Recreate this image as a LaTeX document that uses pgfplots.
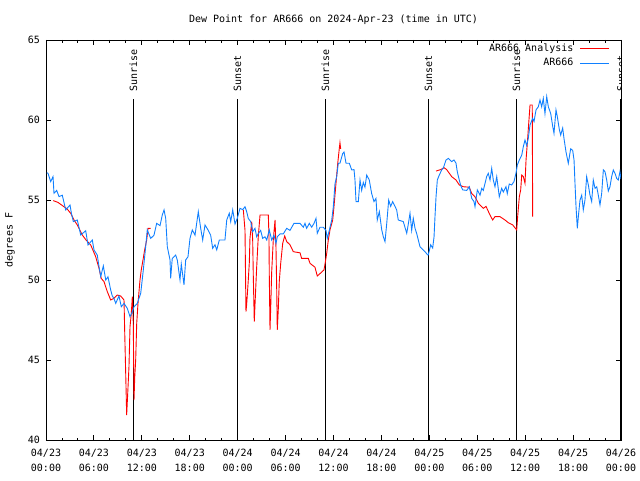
\documentclass[border=0pt]{standalone}
\usepackage{pgfplots}
\pgfplotsset{compat=1.18}
\usepackage{fontspec}
\setmainfont{DejaVu Sans Mono}
\definecolor{obsblue}{RGB}{16,128,255}
\begin{document}
\begin{tikzpicture}
\begin{axis}[
  scale only axis, width=575pt, height=400pt,
  xmin=0, xmax=72, ymin=40, ymax=65,
  axis line style={line width=0.9pt},
  every tick/.style={black, line width=0.9pt},
  major tick length=5pt, minor tick length=2.5pt,
  xtick={0,6,...,72}, minor x tick num=2,
  ytick={40,45,...,65},
  xticklabels={{04/23\\00:00},{04/23\\06:00},{04/23\\12:00},{04/23\\18:00},{04/24\\00:00},{04/24\\06:00},{04/24\\12:00},{04/24\\18:00},{04/25\\00:00},{04/25\\06:00},{04/25\\12:00},{04/25\\18:00},{04/26\\00:00}},
  xticklabel style={align=center, inner sep=0pt, yshift=-9pt, font=\fontsize{10}{15}\selectfont},
  yticklabel style={inner sep=0pt, xshift=-6pt, font=\fontsize{10}{12}\selectfont},
  /pgf/number format/assume math mode=true,
  ylabel={degrees F},
  ylabel style={at={(axis description cs:-0.0626,0.5)}, anchor=center, font=\fontsize{10}{12}\selectfont},
  title={Dew Point for AR666 on 2024-Apr-23 (time in UTC)},
  title style={at={(axis description cs:0.5,1)}, anchor=base, yshift=12pt, font=\fontsize{10}{12}\selectfont},
  legend plot pos=right,
  legend cell align=right,
  legend style={draw=none, fill=none, at={(rel axis cs:1,1)}, anchor=north east,
    xshift=-11pt, yshift=-3pt, inner sep=0pt, row sep=4pt, column sep=6pt,
    font=\fontsize{10}{12}\selectfont,
    nodes={inner sep=0.5pt, text height=7.5pt, text depth=2pt}},
  legend image code/.code={\draw[#1] (0pt,0pt) -- (29pt,0pt);},
  unbounded coords=jump,
]
% sunrise / sunset lines
\addplot[black, line width=0.9pt, forget plot] coordinates {(10.89,40) (10.89,61.3)};
\addplot[black, line width=0.9pt, forget plot] coordinates {(23.92,40) (23.92,61.3)};
\addplot[black, line width=0.9pt, forget plot] coordinates {(34.94,40) (34.94,61.3)};
\addplot[black, line width=0.9pt, forget plot] coordinates {(47.83,40) (47.83,61.3)};
\addplot[black, line width=0.9pt, forget plot] coordinates {(58.85,40) (58.85,61.3)};
\addplot[black, line width=0.9pt, forget plot] coordinates {(71.95,40) (71.95,61.3)};
\node[rotate=90, anchor=west, inner sep=0pt, font=\fontsize{10}{12}\selectfont] at (axis cs:10.95,61.75) {Sunrise};
\node[rotate=90, anchor=west, inner sep=0pt, font=\fontsize{10}{12}\selectfont] at (axis cs:23.98,61.75) {Sunset};
\node[rotate=90, anchor=west, inner sep=0pt, font=\fontsize{10}{12}\selectfont] at (axis cs:35.0,61.75) {Sunrise};
\node[rotate=90, anchor=west, inner sep=0pt, font=\fontsize{10}{12}\selectfont] at (axis cs:47.89,61.75) {Sunset};
\node[rotate=90, anchor=west, inner sep=0pt, font=\fontsize{10}{12}\selectfont] at (axis cs:58.91,61.75) {Sunrise};
\node[rotate=90, anchor=west, inner sep=0pt, font=\fontsize{10}{12}\selectfont] at (axis cs:72.0,61.75) {Sunset};
% analysis
\addplot[red, line width=0.9pt] coordinates {
(0.91,54.96) (1.50,54.85) (2.25,54.58) (2.63,54.45) (3.09,54.17) (3.51,53.75) (3.92,53.44)
(4.55,52.81) (5.01,52.5) (5.60,52.19) (6.22,51.46) (6.64,50.73) (6.92,50.1) (7.26,49.9)
(7.68,49.27) (8.10,48.75) (8.51,48.85) (8.93,49.06) (9.35,49.0) (9.77,48.75) (9.85,46.88)
(10.02,43.33) (10.10,41.56) (10.27,43.3) (10.39,44.58) (10.52,47.08) (10.68,47.9) (10.81,48.96)
(10.93,47.3) (11.02,42.5) (11.11,43.9) (11.23,45.0) (11.36,47.3) (11.52,48.54) (11.77,50.0)
(11.93,50.63) (12.18,51.35) (12.36,51.9) (12.61,52.5) (12.77,53.23) (13.11,53.23)
(13.2,nan)
(24.71,54.38) (24.92,53.1) (25.04,48.02) (25.13,48.5) (25.33,50.0) (25.46,51.1) (25.54,52.6)
(25.76,53.65) (25.88,52.5) (25.96,50.2) (26.08,47.4) (26.21,48.9) (26.38,50.8) (26.58,52.7)
(26.80,54.06) (27.84,54.06) (27.92,52.7) (27.96,50.3) (28.05,46.88) (28.14,48.3) (28.26,50.5)
(28.46,52.5) (28.68,53.75) (28.80,52.0) (28.89,49.38) (28.96,46.88) (29.09,48.2) (29.21,49.9)
(29.39,51.04) (29.64,52.29) (29.89,52.75) (30.14,52.4) (30.55,52.2) (30.97,51.77) (31.81,51.7)
(32.01,51.35) (32.85,51.35) (33.06,51.04) (33.68,50.8) (33.97,50.25) (34.31,50.4) (34.81,50.63)
(34.94,51.0) (35.15,51.67) (35.35,52.5) (35.56,53.13) (35.90,53.75) (36.06,54.58) (36.31,56.04)
(36.53,57.29) (36.73,58.23) (36.81,58.58) (36.90,58.2)
(37.0,nan)
(48.84,56.81) (49.42,56.9) (49.84,57.02) (50.17,56.9) (50.80,56.46) (51.34,56.25) (51.75,55.94)
(52.25,55.83) (53.00,55.8) (53.31,55.4) (53.72,55.2) (54.14,54.79) (54.76,54.48) (55.10,54.6)
(55.60,54.06) (55.93,53.75) (56.22,53.96) (56.85,53.96) (57.48,53.75) (57.89,53.58) (58.44,53.44)
(58.94,53.13) (59.06,53.96) (59.27,55.2) (59.44,55.63) (59.57,56.56) (59.77,56.46) (59.98,56.04)
(60.11,57.5) (60.27,58.54) (60.39,59.4) (60.61,60.94) (60.89,60.94) (60.94,53.96)
};
\addlegendentry{AR666 Analysis}
% observations
\addplot[obsblue, line width=0.9pt] coordinates {
(0.10,56.7) (0.25,56.67) (0.59,56.15) (0.88,56.46) (1.00,55.42) (1.34,55.6) (1.63,55.21) (2.04,55.3)
(2.47,54.38) (3.01,54.69) (3.17,54.2) (3.42,53.65) (3.92,53.75) (4.35,52.81) (4.97,53.08)
(5.26,52.19) (5.80,52.5) (6.01,51.88) (6.42,51.56) (6.64,50.83) (6.85,50.21) (7.18,50.88)
(7.48,50.0) (7.76,50.2) (8.10,49.38) (8.30,49.0) (8.51,48.85) (8.73,48.54) (9.14,49.0)
(9.43,48.33) (9.77,48.54) (10.18,48.23) (10.52,47.71) (10.81,48.0) (11.02,48.33) (11.43,48.54)
(11.86,49.17) (12.18,50.6) (12.48,52.08) (12.68,53.13) (13.11,52.6) (13.52,52.8) (13.86,53.54)
(14.28,53.4) (14.56,54.06) (14.78,54.38) (14.99,53.85) (15.19,52.08) (15.53,51.25) (15.61,50.1)
(15.81,51.35) (16.24,51.56) (16.44,51.25) (16.78,50.0) (16.94,51.0) (17.28,49.7) (17.49,51.25)
(17.78,51.45) (18.03,52.6) (18.32,53.13) (18.66,52.8) (19.07,54.27) (19.37,53.23) (19.62,52.5)
(19.91,53.44) (20.32,53.1) (20.62,52.8) (20.87,51.98) (21.16,52.2) (21.38,51.88) (21.70,52.5)
(22.41,52.5) (22.63,53.75) (22.95,54.17) (23.13,53.65) (23.38,54.38) (23.67,53.5) (23.95,53.85)
(24.29,54.48) (24.63,54.4) (24.92,54.58) (25.13,54.27) (25.33,53.85) (25.63,53.65) (25.88,53.02)
(26.17,53.23) (26.38,52.7) (26.58,52.9) (26.88,53.1) (27.13,52.6) (27.42,52.7) (27.64,52.5)
(27.96,53.13) (28.26,52.5) (28.55,52.8) (28.80,52.29) (28.96,52.7) (29.30,52.88) (29.71,52.88)
(30.14,53.23) (30.55,53.1) (31.05,53.54) (31.81,53.54) (32.22,53.3) (32.43,53.54) (32.64,53.23)
(32.97,53.54) (33.27,53.3) (33.56,53.54) (33.81,53.85) (33.97,52.92) (34.31,53.3) (34.72,53.3)
(35.06,53.1) (35.22,52.6) (35.47,53.1) (35.78,53.75) (35.98,54.58) (36.19,56.04) (36.40,56.46)
(36.60,57.29) (36.81,57.3) (37.15,57.9) (37.32,58.0) (37.57,57.3) (37.98,57.3) (38.28,56.88)
(38.57,56.9) (38.69,56.25) (38.82,54.9) (39.11,54.9) (39.32,56.25) (39.53,55.6) (39.73,56.1)
(39.94,55.8) (40.16,56.56) (40.48,56.25) (40.78,55.4) (41.07,54.9) (41.32,55.1) (41.48,53.75)
(41.74,54.27) (42.04,53.13) (42.24,52.7) (42.45,52.4) (42.66,53.5) (42.91,55.0) (43.16,54.6)
(43.41,54.9) (43.70,54.6) (43.91,54.38) (44.11,53.75) (44.74,53.65) (45.17,52.92) (45.37,53.5)
(45.58,54.17) (45.79,53.1) (45.99,53.85) (46.21,53.23) (46.42,52.9) (46.62,52.5) (46.83,52.08)
(47.46,51.77) (47.80,51.56) (47.87,51.56) (48.17,52.2) (48.42,52.0) (48.59,52.7) (48.71,53.96)
(48.84,55.2) (49.00,56.25) (49.25,56.56) (49.55,56.88) (49.75,57.0) (50.09,57.5) (50.38,57.6)
(50.80,57.4) (51.09,57.5) (51.34,57.3) (51.50,56.77) (51.75,56.25) (51.93,55.9) (52.18,55.63)
(52.68,55.6) (53.01,55.83) (53.31,55.1) (53.59,54.9) (53.72,54.58) (54.01,55.63) (54.35,55.3)
(54.56,55.73) (54.76,55.6) (55.18,56.46) (55.38,56.67) (55.60,56.25) (55.81,56.98) (56.01,56.25)
(56.22,55.83) (56.44,56.46) (56.76,55.2) (57.06,55.73) (57.26,55.5) (57.60,55.83) (57.76,55.4)
(58.01,56.0) (58.31,55.94) (58.60,56.15) (58.85,56.67) (59.02,57.19) (59.27,57.5) (59.57,57.8)
(59.77,58.33) (59.98,58.75) (60.19,58.4) (60.39,58.85) (60.61,59.69) (60.94,60.1) (61.11,59.9)
(61.36,60.63) (61.65,60.83) (61.86,61.25) (62.07,60.83) (62.27,61.35) (62.48,60.4) (62.70,61.46)
(62.90,60.83) (63.20,60.4) (63.45,59.6) (63.61,59.17) (63.86,60.63) (64.03,60.2) (64.28,59.4)
(64.45,59.06) (64.70,59.5) (64.86,58.85) (65.11,58.02) (65.40,57.29) (65.70,58.2) (65.95,58.1)
(66.12,57.5) (66.24,56.04) (66.37,54.58) (66.53,53.23) (66.70,54.17) (66.87,55.0) (67.08,55.3)
(67.28,54.38) (67.49,55.0) (67.70,56.46) (67.91,55.94) (68.12,55.3) (68.33,54.9) (68.53,56.25)
(68.75,55.73) (68.96,55.83) (69.16,55.3) (69.37,54.69) (69.58,55.4) (69.79,56.88) (70.00,56.77)
(70.21,56.25) (70.41,55.56) (70.62,55.83) (70.83,56.46) (71.04,56.88) (71.25,56.67) (71.46,56.35)
(71.66,56.25) (71.87,56.77) (72.0,56.3)
};
\addlegendentry{AR666}
\end{axis}
\pgfresetboundingbox
\path[use as bounding box] (-46pt,-40pt) rectangle (594pt,440pt);
\end{tikzpicture}
\end{document}
